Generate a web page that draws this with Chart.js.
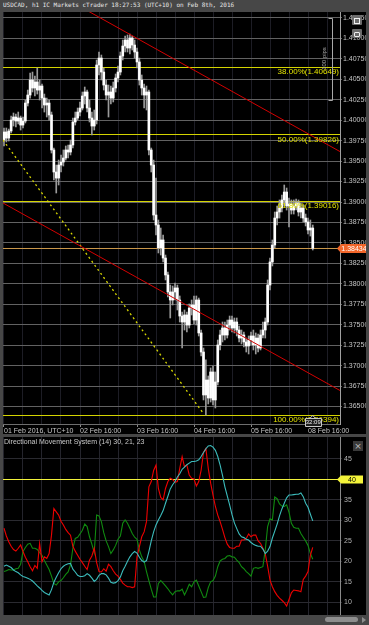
<!DOCTYPE html>
<html>
<head>
<meta charset="utf-8">
<title>USDCAD h1</title>
<script src="https://cdn.jsdelivr.net/npm/chart.js@4.4.0/dist/chart.umd.min.js"></script>
<style>
html, body { margin: 0; padding: 0; background: #474747; }
#frame { position: relative; width: 369px; height: 625px; background: #474747; overflow: hidden; }
#title { position: absolute; left: 3px; top: 1px; font: 6px "DejaVu Sans Mono", monospace; color: #e6e6e6; white-space: nowrap; }
#pricePane { position: absolute; left: 3px; top: 12px; width: 363px; height: 422px; background: #000; }
#dmsPane { position: absolute; left: 3px; top: 437px; width: 363px; height: 178px; background: #000; }
#dmsTitle { position: absolute; left: 1px; top: 1px; font: 7px "Liberation Sans Narrow", "Liberation Sans", sans-serif; color: #c8c8c8; white-space: nowrap; }
canvas { display: block; }
.icon { position: absolute; background: #6c6c6c; border-radius: 1px; }
.icon i { position: absolute; border: 1px solid #f0f0f0; }
#closeBtn { position: absolute; left: 353px; top: 441px; width: 10px; height: 10px; background: #3a3a3a; color: #bdbdbd; font: 9px "DejaVu Sans", sans-serif; line-height: 10px; text-align: center; }
#scrollThumb { position: absolute; left: 325px; top: 617px; width: 33px; height: 5px; background: #8e8e8e; border-radius: 3px; }
#scrollArrow { position: absolute; left: 362px; top: 617px; width: 0; height: 0; border-top: 3px solid transparent; border-bottom: 3px solid transparent; border-left: 4px solid #8e8e8e; }
</style>
</head>
<body>
<div id="frame">
  <div id="title">USDCAD, h1 IC Markets cTrader 18:27:53 (UTC+10) on Feb 8th, 2016</div>
  <div id="pricePane"><canvas id="priceChart" width="363" height="422"></canvas></div>
  <div id="dmsPane">
    <canvas id="dmsChart" width="363" height="178"></canvas>
    <div id="dmsTitle">Directional Movement System (14) 30, 21, 23</div>
  </div>
  <div class="icon" style="left:352px;top:15px;width:10px;height:10px;"><i style="left:2px;top:3px;width:4px;height:4px;"></i></div>
  <div class="icon" style="left:352px;top:29px;width:10px;height:9px;"><i style="left:2px;top:3px;width:4px;height:3px;border-radius:1px;"></i></div>
  <div id="closeBtn">×</div>
  <div id="scrollThumb"></div>
  <div id="scrollArrow"></div>
</div>

<script>
// ---------- Price data (h1 candles) ----------

const opens = [
1.39758,1.39856,1.39782,1.39868,1.40002,1.40039,1.39990,1.40027,1.39941,1.39990,
1.40210,1.40308,1.40492,1.40394,1.40467,1.40369,1.40418,1.40271,1.40186,1.40210,
1.40064,1.39636,1.39367,1.39293,1.39452,1.39489,1.39538,1.39636,1.39611,1.39697,
1.39978,1.40027,1.40100,1.40149,1.40296,1.40345,1.40149,1.40027,1.39929,1.40002,
1.40675,1.40760,1.40589,1.40430,1.40308,1.40345,1.40271,1.40394,1.40516,1.40589,
1.40785,1.40907,1.40980,1.40883,1.41005,1.40919,1.40834,1.40712,1.40492,1.40394,
1.40308,1.40345,1.39636,1.39452,1.38841,1.38719,1.38440,1.38536,1.38315,1.38108,
1.37900,1.37802,1.37900,1.37949,1.37802,1.37606,1.37533,1.37619,1.37496,1.37704,
1.37741,1.37557,1.37802,1.37399,1.37166,1.36641,1.36824,1.36604,1.36922,1.36580,
1.36800,1.37252,1.37374,1.37460,1.37374,1.37496,1.37557,1.37460,1.37533,1.37435,
1.37337,1.37374,1.37289,1.37240,1.37313,1.37362,1.37252,1.37337,1.37215,1.37374,
1.37435,1.37533,1.37985,1.38267,1.38474,1.38804,1.38878,1.38927,1.39025,1.39122,
1.38951,1.38976,1.38902,1.38951,1.38988,1.38878,1.38927,1.38804,1.38756,1.38658,
1.38682];

const highs = [
1.39905,1.39905,1.39892,1.40051,1.40088,1.40076,1.40100,1.40051,1.40039,1.40247,
1.40369,1.40577,1.40589,1.40540,1.40638,1.40492,1.40443,1.40320,1.40271,1.40247,
1.40100,1.39660,1.39452,1.39513,1.39575,1.39636,1.39685,1.39697,1.39758,1.40027,
1.40100,1.40149,1.40223,1.40345,1.40406,1.40369,1.40247,1.40100,1.40125,1.40736,
1.40834,1.40797,1.40638,1.40492,1.40430,1.40418,1.40467,1.40565,1.40663,1.40834,
1.40980,1.41029,1.41042,1.41054,1.41029,1.40980,1.40883,1.40760,1.40553,1.40443,
1.40418,1.40369,1.39660,1.39513,1.39293,1.38780,1.38682,1.38597,1.38352,1.38144,
1.37985,1.37973,1.38010,1.37985,1.37851,1.37655,1.37680,1.37655,1.37753,1.37802,
1.37851,1.37851,1.37826,1.37435,1.37215,1.37069,1.36873,1.36971,1.36995,1.36922,
1.37313,1.37435,1.37533,1.37533,1.37557,1.37606,1.37606,1.37582,1.37582,1.37484,
1.37435,1.37411,1.37337,1.37362,1.37411,1.37435,1.37399,1.37386,1.37435,1.37533,
1.37582,1.38047,1.38315,1.38536,1.38878,1.38951,1.39025,1.39086,1.39208,1.39171,
1.39049,1.39025,1.39025,1.39037,1.39025,1.38988,1.38963,1.38853,1.38804,1.38780,
1.38719];

const lows = [
1.39685,1.39734,1.39746,1.39844,1.39929,1.39917,1.39954,1.39880,1.39905,1.39966,
1.40174,1.40271,1.40345,1.40296,1.40320,1.40247,1.40149,1.40100,1.40039,1.40002,
1.39599,1.39269,1.39110,1.39208,1.39367,1.39440,1.39513,1.39538,1.39575,1.39660,
1.39941,1.40002,1.40051,1.40125,1.40198,1.40100,1.39978,1.39819,1.39880,1.39954,
1.40553,1.40492,1.40369,1.40247,1.40039,1.40198,1.40223,1.40345,1.40467,1.40553,
1.40736,1.40834,1.40834,1.40809,1.40858,1.40760,1.40638,1.40430,1.40308,1.40149,
1.40125,1.39575,1.39367,1.38780,1.38597,1.38377,1.38352,1.38267,1.38047,1.37839,
1.37582,1.37741,1.37802,1.37680,1.37533,1.37215,1.37435,1.37411,1.37460,1.37619,
1.37509,1.37496,1.37362,1.37117,1.36580,1.36394,1.36531,1.36555,1.36518,1.36482,
1.36763,1.37191,1.37289,1.37313,1.37337,1.37435,1.37411,1.37399,1.37362,1.37289,
1.37264,1.37227,1.37166,1.37142,1.37252,1.37191,1.37142,1.37166,1.37191,1.37337,
1.37337,1.37496,1.37924,1.38218,1.38440,1.38719,1.38804,1.38878,1.38951,1.38902,
1.38694,1.38853,1.38853,1.38902,1.38829,1.38804,1.38756,1.38707,1.38609,1.38584,
1.38413];

const closes = [
1.39856,1.39782,1.39868,1.40002,1.40039,1.39990,1.40027,1.39941,1.39990,1.40210,
1.40308,1.40492,1.40394,1.40467,1.40369,1.40418,1.40271,1.40186,1.40210,1.40064,
1.39636,1.39367,1.39293,1.39452,1.39489,1.39538,1.39636,1.39611,1.39697,1.39978,
1.40027,1.40100,1.40149,1.40296,1.40345,1.40149,1.40027,1.39929,1.40002,1.40675,
1.40760,1.40589,1.40430,1.40308,1.40345,1.40271,1.40394,1.40516,1.40589,1.40785,
1.40907,1.40980,1.40883,1.41005,1.40919,1.40834,1.40712,1.40492,1.40394,1.40308,
1.40345,1.39636,1.39452,1.38841,1.38719,1.38440,1.38536,1.38315,1.38108,1.37900,
1.37802,1.37900,1.37949,1.37802,1.37606,1.37533,1.37619,1.37496,1.37704,1.37741,
1.37557,1.37802,1.37399,1.37166,1.36641,1.36824,1.36604,1.36922,1.36580,1.36800,
1.37252,1.37374,1.37460,1.37374,1.37496,1.37557,1.37460,1.37533,1.37435,1.37337,
1.37374,1.37289,1.37240,1.37313,1.37362,1.37252,1.37337,1.37215,1.37374,1.37435,
1.37533,1.37985,1.38267,1.38474,1.38804,1.38878,1.38927,1.39025,1.39122,1.38951,
1.38976,1.38902,1.38951,1.38988,1.38878,1.38927,1.38804,1.38756,1.38658,1.38682,
1.38434];

const lastPrice = 1.38434;
const barCountdown = "32:09";

// x axis: bar index, labels only on some bars
const dayTickBars = [0, 32, 56, 80, 104, 128];
const dayTickLabels = ["01 Feb 2016, UTC+10", "02 Feb 16:00", "03 Feb 16:00", "04 Feb 16:00", "05 Feb 16:00", "08 Feb 16:00"];

// ---------- Drawings ----------

const fibLevels = [38.00, 50.00, 61.80, 100.00];
const fibPrices = [1.40649, 1.39826, 1.39016, 1.36394];

const resistanceLine = [{x: 35, y: 1.41341}, {x: 142, y: 1.39608}];
const supportLine = [{x: -0.42, y: 1.38988}, {x: 142, y: 1.36687}];
const fanLine = [{x: -0.42, y: 1.39758}, {x: 83.8, y: 1.36421}];

const rulerBar = 138;
const rulerPrices = [1.4125, 1.4025];
const rulerLabel = "100 pips";

// ---------- Directional Movement System (14) ----------

const diPlus = [
17.5,17.7,18.0,17.9,17.9,18.2,18.3,19.3,22.4,23.4,
24.2,24.4,23.2,23.2,22.9,22.1,21.5,20.2,19.1,18.0,
16.4,14.6,14.2,15.0,15.3,16.0,16.8,17.4,19.1,23.2,
25.6,25.9,26.7,27.6,29.1,28.5,26.0,24.2,22.1,31.3,
31.1,29.7,27.0,25.0,23.6,21.9,22.8,23.9,25.4,26.2,
29.3,30.1,29.3,28.1,26.8,25.9,25.4,22.8,21.1,20.0,
17.5,15.3,13.2,11.3,11.3,14.6,15.3,14.7,14.0,13.3,
12.5,11.8,12.6,12.8,12.8,13.2,11.8,13.0,14.4,13.8,
15.0,15.4,14.0,12.6,11.2,11.3,13.6,15.0,15.3,16.4,
18.7,20.1,20.5,20.7,21.3,21.4,21.1,21.0,20.3,19.7,
18.7,18.2,17.5,17.0,16.4,18.3,18.5,18.3,18.5,18.7,
22.8,28.5,30.4,30.1,35.7,35.3,34.0,33.5,33.4,33.8,
32.0,29.3,28.3,28.1,28.1,26.8,25.9,25.0,23.9,21.9,
20.5];

const diMinus = [
28.1,26.2,24.8,23.7,22.9,22.5,23.2,24.0,22.4,21.0,
19.9,18.7,17.7,19.0,18.3,24.4,19.9,21.1,20.7,21.9,
26.4,32.9,32.1,31.3,29.8,28.9,27.8,27.0,26.4,23.7,
22.5,21.5,20.5,19.7,18.8,18.0,20.3,21.3,23.2,19.7,
17.5,17.4,18.2,17.6,19.3,18.7,17.7,16.9,16.4,15.6,
14.7,14.2,13.8,13.8,13.6,13.8,21.1,23.6,26.0,27.2,
29.7,38.2,39.5,42.2,43.5,37.8,35.6,35.0,37.8,39.5,
40.3,40.0,39.3,39.5,42.7,45.6,43.1,43.5,41.1,40.3,
40.1,38.4,39.5,42.3,46.6,47.6,42.7,39.1,36.2,33.4,
31.3,29.7,27.8,25.8,24.2,23.4,23.2,23.2,23.7,23.7,
25.2,25.2,25.6,26.7,26.0,26.4,26.4,25.0,24.4,23.2,
21.9,18.8,15.4,13.8,12.6,11.7,11.0,10.5,9.9,9.1,
10.7,12.3,13.0,12.9,12.8,12.6,15.6,16.4,17.5,21.5,
23.4];

const adx = [
18.8,19.1,18.8,18.5,17.9,17.5,17.2,16.7,16.3,16.1,
15.9,15.6,15.2,14.6,14.0,13.5,12.9,12.4,12.1,11.8,
13.1,14.9,16.1,17.2,18.2,18.8,19.2,19.4,19.5,18.1,
17.4,16.6,16.3,16.3,16.5,17.0,16.6,15.9,15.1,15.6,
16.6,17.0,17.0,16.7,15.9,14.9,14.7,14.8,15.3,16.2,
17.7,18.8,20.0,21.1,21.9,22.4,22.0,21.0,20.2,19.8,
20.2,22.4,25.0,27.2,28.9,30.1,31.2,32.4,34.2,35.9,
37.7,38.7,39.5,40.6,41.4,42.5,43.0,43.6,44.0,44.4,
44.4,44.5,44.8,45.6,46.6,47.5,48.2,48.3,47.9,47.1,
45.6,43.5,41.0,38.2,36.0,33.8,31.4,29.4,28.0,26.7,
26.0,25.8,25.4,25.2,24.6,24.2,23.9,23.7,23.7,23.0,
21.9,22.5,23.6,25.7,27.4,29.1,31.1,32.8,34.2,35.5,
36.2,36.2,36.3,36.4,36.4,36.7,35.8,34.2,33.2,31.5,
29.9];

const dmsLevel = 40;
const dmsTickTop = 45;

// ---------- Axis ranges ----------

const barMin = -0.42, barMax = 141.47;
const priceMin = 1.36286, priceMax = 1.41323;
const dmsMin = 6.9, dmsMax = 50.37;

const SMALL = "'Liberation Sans Narrow', 'Liberation Sans', sans-serif";

// ---------- Price pane ----------

function hline(ctx, x1, x2, y) {
    ctx.beginPath();
    ctx.moveTo(x1, y);
    ctx.lineTo(x2, y);
    ctx.stroke();
}

const priceDecor = {
    id: "priceDecor",

    beforeDatasetsDraw(chart) {
        const {ctx, chartArea: a, scales: {y}} = chart;
        ctx.save();
        ctx.lineWidth = 1;
        ctx.strokeStyle = "#d4d400";
        fibPrices.forEach(p => hline(ctx, a.left, a.right, Math.round(y.getPixelForValue(p)) + 0.5));
        ctx.strokeStyle = "#c9974a";
        hline(ctx, a.left, a.right, Math.round(y.getPixelForValue(lastPrice)) + 0.5);
        ctx.restore();
    },

    afterDatasetsDraw(chart) {
        const {ctx, chartArea: a, scales: {x, y}} = chart;
        ctx.save();

        // fibonacci labels
        ctx.font = "8px " + SMALL;
        ctx.fillStyle = "#e4e400";
        ctx.textAlign = "right";
        ctx.textBaseline = "top";
        fibPrices.forEach((p, i) => {
            const py = y.getPixelForValue(p);
            ctx.fillText(fibLevels[i].toFixed(2) + "%(" + p.toFixed(5) + ")", a.right - 1, py + 1);
        });

        // pip ruler
        const rx = Math.round(x.getPixelForValue(rulerBar)) + 0.5;
        const ry1 = Math.round(y.getPixelForValue(rulerPrices[0])) + 0.5;
        const ry2 = Math.round(y.getPixelForValue(rulerPrices[1])) + 0.5;
        ctx.strokeStyle = "#a8a8a8";
        ctx.lineWidth = 1;
        ctx.beginPath();
        ctx.moveTo(rx - 4, ry1); ctx.lineTo(rx, ry1); ctx.lineTo(rx, ry2); ctx.lineTo(rx - 4, ry2);
        ctx.stroke();
        ctx.translate(rx - 5, (ry1 + ry2) / 2 - 1);
        ctx.rotate(-Math.PI / 2);
        ctx.font = "6px " + SMALL;
        ctx.fillStyle = "#a8a8a8";
        ctx.textAlign = "center";
        ctx.textBaseline = "bottom";
        ctx.fillText(rulerLabel, 0, 0);
        ctx.restore();
    },

    afterDraw(chart) {
        const {ctx, chartArea: a, scales: {x, y}} = chart;
        ctx.save();

        // last price tag on the axis
        const ly = Math.round(y.getPixelForValue(lastPrice));
        ctx.fillStyle = "#f2662a";
        ctx.beginPath();
        ctx.moveTo(a.right - 3, ly + 0.5);
        ctx.lineTo(a.right + 1, ly - 4);
        ctx.lineTo(a.right + 26, ly - 4);
        ctx.lineTo(a.right + 26, ly + 5);
        ctx.lineTo(a.right + 1, ly + 5);
        ctx.closePath();
        ctx.fill();
        ctx.fillStyle = "#ffffff";
        ctx.font = "7px " + SMALL;
        ctx.textAlign = "center";
        ctx.textBaseline = "middle";
        ctx.fillText(lastPrice.toFixed(5), a.right + 14, ly + 1);

        // countdown box under the last bar
        const cx = x.getPixelForValue(closes.length - 1);
        const by = a.bottom - 6;
        ctx.fillStyle = "#1e1e1e";
        ctx.strokeStyle = "#c8c8c8";
        ctx.lineWidth = 1;
        ctx.beginPath();
        ctx.rect(Math.round(cx - 8) + 0.5, by + 0.5, 16, 8);
        ctx.fill();
        ctx.stroke();
        ctx.beginPath();
        ctx.moveTo(cx - 3, by + 0.5); ctx.lineTo(cx, by - 2.5); ctx.lineTo(cx + 3, by + 0.5);
        ctx.stroke();
        ctx.fillStyle = "#e8e8e8";
        ctx.font = "6px " + SMALL;
        ctx.fillText(barCountdown, cx + 0.5, by + 4.5);
        ctx.restore();
    }
};

const wickData = lows.map((l, i) => ({x: i, y: [l, highs[i]]}));
const bodyData = opens.map((o, i) => ({x: i, y: [o, closes[i]]}));

new Chart(document.getElementById("priceChart"), {
    type: "bar",
    data: {
        datasets: [
            {type: "line", data: resistanceLine, borderColor: "#d40000", borderWidth: 1, pointRadius: 0, order: 0},
            {type: "line", data: supportLine, borderColor: "#d40000", borderWidth: 1, pointRadius: 0, order: 0},
            {type: "line", data: fanLine, borderColor: "#d8d800", borderWidth: 1.3, borderDash: [2, 3], pointRadius: 0, order: 0},
            {data: bodyData, backgroundColor: "#ffffff", barThickness: 2, minBarLength: 1, grouped: false, order: 1},
            {data: wickData, backgroundColor: "#9a9a9a", barThickness: 1, grouped: false, order: 2}
        ]
    },
    options: {
        responsive: false,
        animation: false,
        events: [],
        layout: {padding: 0},
        plugins: {legend: {display: false}, tooltip: {enabled: false}},
        scales: {
            x: {
                type: "linear",
                min: barMin,
                max: barMax,
                offset: false,
                grid: {
                    offset: false,
                    color: "#1d1d25",
                    tickLength: 3,
                    tickColor: c => dayTickBars.includes(c.tick && c.tick.value) ? "#8a8a8a" : "rgba(0,0,0,0)"
                },
                border: {color: "#6e6e6e"},
                ticks: {
                    stepSize: 8,
                    includeBounds: false,
                    autoSkip: false,
                    maxRotation: 0,
                    align: "start",
                    padding: 0,
                    color: "#c4c4c4",
                    font: {family: SMALL, size: 7},
                    callback: v => {
                        const k = dayTickBars.indexOf(v);
                        return k >= 0 ? dayTickLabels[k] : "";
                    }
                },
                afterFit: s => { s.height = 10; s.paddingLeft = 0; s.paddingRight = 0; }
            },
            y: {
                position: "right",
                min: priceMin,
                max: priceMax,
                grid: {color: "#626262", tickLength: 2},
                border: {color: "#a0a0a0"},
                ticks: {
                    stepSize: 0.0025,
                    includeBounds: false,
                    padding: 1,
                    color: "#c4c4c4",
                    font: {family: SMALL, size: 7},
                    callback: v => v.toFixed(5)
                },
                afterFit: s => { s.width = 26; s.paddingTop = 0; s.paddingBottom = 0; }
            }
        }
    },
    plugins: [priceDecor]
});

// ---------- DMS pane ----------

const dmsDecor = {
    id: "dmsDecor",

    beforeDatasetsDraw(chart) {
        const {ctx, chartArea: a, scales: {y}} = chart;
        ctx.save();
        ctx.strokeStyle = "#f2f23c";
        ctx.lineWidth = 1;
        hline(ctx, a.left, a.right, Math.round(y.getPixelForValue(dmsLevel)) + 0.5);
        ctx.restore();
    },

    afterDraw(chart) {
        const {ctx, chartArea: a, scales: {y}} = chart;
        const ly = Math.round(y.getPixelForValue(dmsLevel));
        ctx.save();
        ctx.fillStyle = "#f4f43a";
        ctx.beginPath();
        ctx.moveTo(a.right - 3, ly + 0.5);
        ctx.lineTo(a.right + 1, ly - 3.5);
        ctx.lineTo(a.right + 23, ly - 3.5);
        ctx.lineTo(a.right + 23, ly + 4.5);
        ctx.lineTo(a.right + 1, ly + 4.5);
        ctx.closePath();
        ctx.fill();
        ctx.fillStyle = "#000000";
        ctx.font = "7px " + SMALL;
        ctx.textAlign = "center";
        ctx.textBaseline = "middle";
        ctx.fillText(String(dmsLevel), a.right + 12, ly + 1);
        ctx.restore();
    }
};

const bars = adx.map((_, i) => i);

function dmsLine(values, color) {
    return {
        data: values.map((v, i) => ({x: bars[i], y: v})),
        borderColor: color,
        borderWidth: 1.1,
        pointRadius: 0,
        tension: 0
    };
}

new Chart(document.getElementById("dmsChart"), {
    type: "line",
    data: {
        datasets: [
            dmsLine(adx, "#3cbcbc"),
            dmsLine(diMinus, "#ee0000"),
            dmsLine(diPlus, "#108a10")
        ]
    },
    options: {
        responsive: false,
        animation: false,
        events: [],
        layout: {padding: 0},
        plugins: {legend: {display: false}, tooltip: {enabled: false}},
        scales: {
            x: {
                type: "linear",
                min: barMin,
                max: barMax,
                grid: {color: "#24242c", drawTicks: false},
                border: {display: false},
                ticks: {stepSize: 8, includeBounds: false, display: false},
                afterFit: s => { s.height = 0; s.paddingLeft = 0; s.paddingRight = 0; }
            },
            y: {
                position: "right",
                min: dmsMin,
                max: dmsMax,
                grid: {color: "#2a2a30", tickLength: 2},
                border: {color: "#8a8a8a"},
                ticks: {
                    stepSize: 5,
                    includeBounds: false,
                    padding: 2,
                    color: "#b4b4b4",
                    font: {family: SMALL, size: 7}
                },
                afterBuildTicks: s => { s.ticks = s.ticks.filter(t => t.value <= dmsTickTop); },
                afterFit: s => { s.width = 26; s.paddingTop = 0; s.paddingBottom = 0; }
            }
        }
    },
    plugins: [dmsDecor]
});
</script>
</body>
</html>
